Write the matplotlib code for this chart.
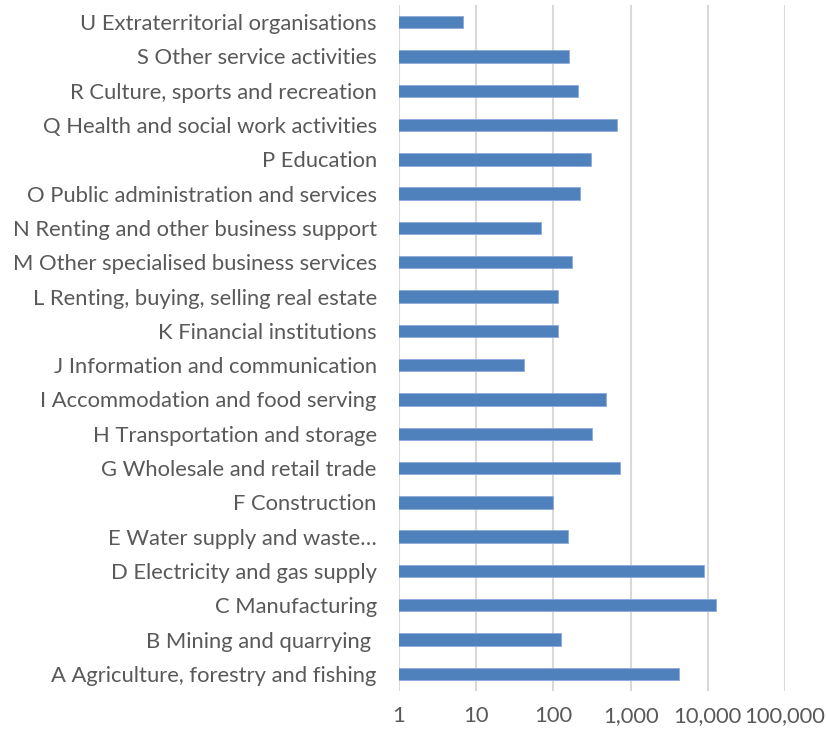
import matplotlib.pyplot as plt
from matplotlib.ticker import FixedLocator, FuncFormatter

# --- Data (bottom to top) ---
sectors = [
    "A Agriculture, forestry and fishing",
    "B Mining and quarrying ",
    "C Manufacturing",
    "D Electricity and gas supply",
    "E Water supply and waste\u2026",
    "F Construction",
    "G Wholesale and retail trade",
    "H Transportation and storage",
    "I Accommodation and food serving",
    "J Information and communication",
    "K Financial institutions",
    "L Renting, buying, selling real estate",
    "M Other specialised business services",
    "N Renting and other business support",
    "O Public administration and services",
    "P Education",
    "Q Health and social work activities",
    "R Culture, sports and recreation",
    "S Other service activities",
    "U Extraterritorial organisations",
]
values = [4200, 127, 12700, 8850, 154, 100, 720, 318, 474, 41,
          115, 114, 174, 69, 218, 309, 674, 208, 159, 6.8]
xticks = [1, 10, 100, 1000, 10000, 100000]

plt.rcParams['font.family'] = ['Lato', 'DejaVu Sans']

fig = plt.figure(figsize=(8.26, 7.33), dpi=100)
ax = fig.add_axes([399 / 826, 1 - 691 / 733, 386 / 826, 686 / 733])

ypos = list(range(len(sectors)))
ax.barh(ypos, values, height=0.36, color="#4F81BD", edgecolor="#8EAADB",
        linewidth=0.6, zorder=3)

ax.set_xscale("log")
ax.set_xlim(1, 100000)
ax.set_ylim(-0.5, len(sectors) - 0.5)
ax.xaxis.set_major_locator(FixedLocator(xticks))
ax.xaxis.set_minor_locator(FixedLocator([]))
ax.xaxis.set_major_formatter(FuncFormatter(lambda v, p: f"{int(round(v)):,}"))

ax.set_yticks(ypos)
ax.set_yticklabels(sectors)

ax.grid(axis="x", color="#D9D9D9", linewidth=1.5, zorder=0)
for s in ax.spines.values():
    s.set_visible(False)

ax.tick_params(axis="y", length=0, pad=16, labelsize=15.8, labelcolor="#595959")
ax.tick_params(axis="x", length=0, pad=11, labelsize=15.8, labelcolor="#595959")

fig.savefig("out.png", dpi=100)
